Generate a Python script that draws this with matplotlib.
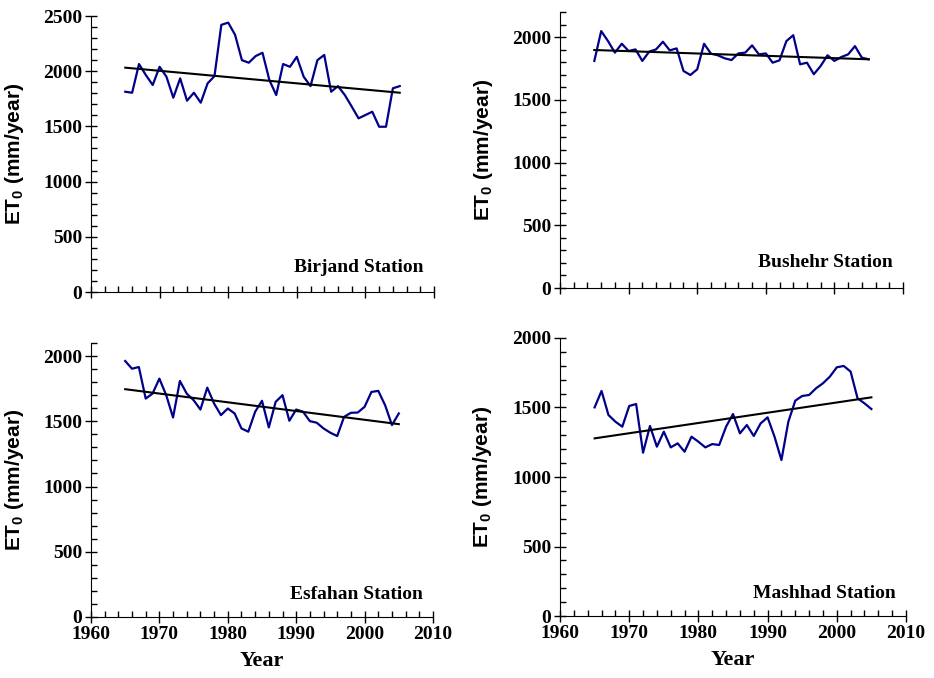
import numpy as np
import matplotlib
matplotlib.use("Agg")
import matplotlib.pyplot as plt
from matplotlib.ticker import MultipleLocator

plt.rcParams['font.family'] = ['Liberation Serif', 'DejaVu Serif']
plt.rcParams['font.weight'] = 'bold'

years = list(range(1965, 2006))

birjand = [1814, 1805, 2065, 1965, 1875, 2040, 1950, 1760, 1935, 1733,
           1805, 1715, 1890, 1955, 2420, 2440, 2330, 2100, 2077, 2137,
           2167, 1920, 1784, 2065, 2040, 2130, 1950, 1865, 2100, 2147,
           1814, 1865, 1784, 1680, 1573, 1603, 1633, 1497, 1497, 1845,
           1865]
bushehr = [1810, 2048, 1968, 1876, 1947, 1889, 1902, 1810, 1884, 1902,
           1963, 1894, 1910, 1730, 1698, 1743, 1947, 1868, 1855, 1831,
           1817, 1870, 1876, 1934, 1862, 1870, 1796, 1815, 1968, 2015,
           1783, 1796, 1704, 1770, 1855, 1810, 1841, 1862, 1928, 1836,
           1823]
esfahan = [1962, 1903, 1916, 1674, 1712, 1827, 1700, 1529, 1809, 1712,
           1662, 1590, 1758, 1636, 1547, 1598, 1560, 1445, 1420, 1573,
           1657, 1453, 1649, 1700, 1504, 1590, 1573, 1501, 1489, 1445,
           1412, 1387, 1534, 1565, 1567, 1611, 1725, 1733, 1623, 1471,
           1560]
mashhad = [1501, 1619, 1446, 1398, 1362, 1511, 1525, 1175, 1367, 1218,
           1326, 1213, 1242, 1182, 1290, 1254, 1213, 1237, 1230, 1362,
           1453, 1314, 1374, 1295, 1386, 1429, 1290, 1122, 1398, 1549,
           1583, 1590, 1638, 1674, 1722, 1789, 1799, 1758, 1566, 1530,
           1489]

stations = ['Birjand Station', 'Bushehr Station', 'Esfahan Station', 'Mashhad Station']
series = [birjand, bushehr, esfahan, mashhad]
# linear trend, value at 1965 and at 2005
trend_start = [2032, 1897, 1746, 1278]
trend_end = [1805, 1823, 1478, 1573]
y_max = [2500, 2200, 2100, 2000]

# axes rectangles in figure fraction (left, bottom, width, height)
rects = [
    (0.0974, 0.5693, 0.3673, 0.4071),
    (0.5996, 0.5752, 0.3672, 0.4071),
    (0.0974, 0.0900, 0.3662, 0.4041),
    (0.5996, 0.0914, 0.3704, 0.4101),
]
label_y = [220, 206, 169, 165]

fig = plt.figure(figsize=(9.34, 6.78), dpi=100)

for i in range(4):
    ax = fig.add_axes(rects[i])
    ax.plot(years, series[i], color='#00008b', lw=1.6, solid_joinstyle='round')
    ax.plot([years[0], years[-1]], [trend_start[i], trend_end[i]], color='black', lw=1.5)

    ax.set_xlim(1960, 2010)
    ax.set_ylim(0, y_max[i])
    ax.spines['top'].set_visible(False)
    ax.spines['right'].set_visible(False)
    ax.xaxis.set_major_locator(MultipleLocator(10))
    ax.xaxis.set_minor_locator(MultipleLocator(2))
    ax.yaxis.set_major_locator(MultipleLocator(500))
    ax.yaxis.set_minor_locator(MultipleLocator(100))
    ax.tick_params(which='major', direction='inout', length=9, width=1, labelsize=14, pad=2)
    ax.tick_params(which='minor', direction='in', length=4, width=1)
    for lab in ax.get_xticklabels() + ax.get_yticklabels():
        lab.set_fontweight('bold')

    ax.set_ylabel(r'ET$_{\mathregular{0}}$ (mm/year)', family=['Liberation Sans', 'DejaVu Sans'],
                  fontsize=15, fontweight='bold')
    ax.yaxis.set_label_coords(-0.19, 0.5)

    if i < 2:
        ax.tick_params(axis='x', labelbottom=False)
    else:
        ax.set_xlabel('Year', fontsize=16, fontweight='bold', labelpad=6)

    ax.text(2008.5, label_y[i], stations[i], ha='right', va='center',
            fontsize=14, fontweight='bold')

fig.savefig('out.png', dpi=100)
